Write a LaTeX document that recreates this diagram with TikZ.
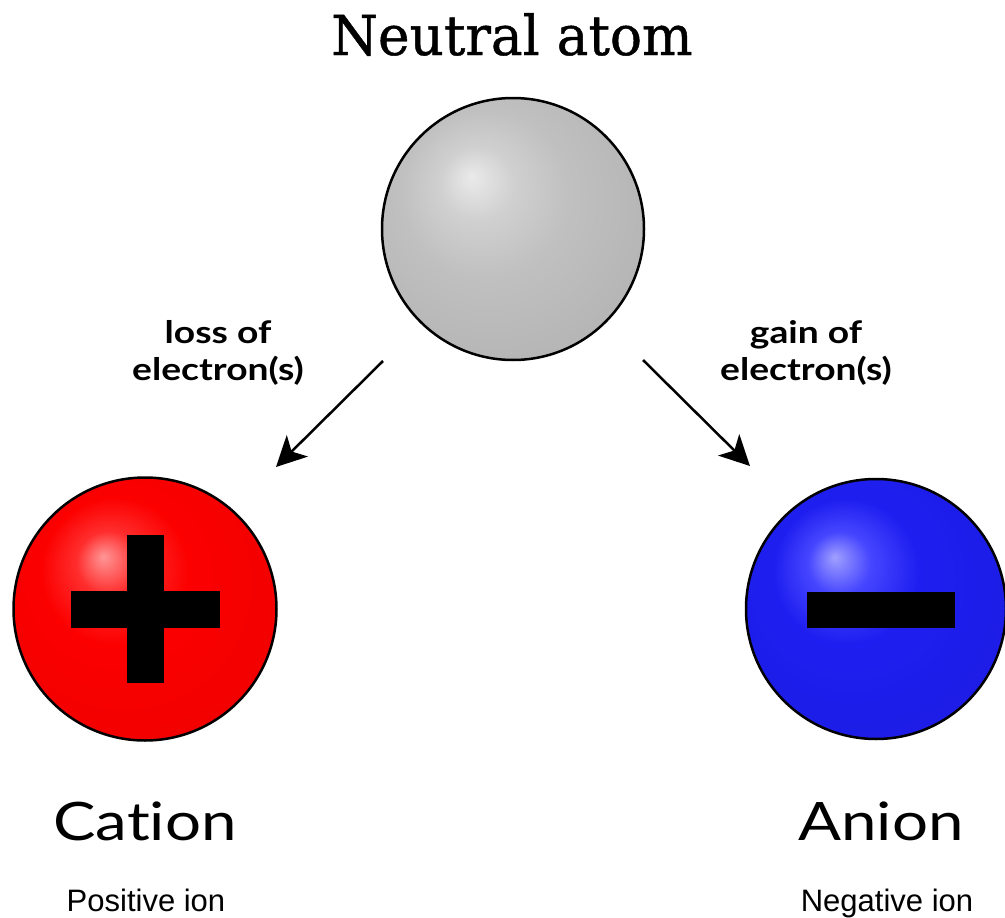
\documentclass[tikz,border=0pt]{standalone}
\usepackage{fontspec}
\usetikzlibrary{arrows.meta}
\newfontfamily\titlefont[FakeStretch=0.97,FakeBold=0.8]{DejaVu Serif}
\newfontfamily\museo[FakeStretch=1.2,Ligatures=NoCommon]{Lato}
\newfontfamily\arialf{Liberation Sans}
\definecolor{gHi}{RGB}{234,234,234}
\definecolor{gMid}{RGB}{208,208,208}
\definecolor{gBase}{RGB}{192,192,192}
\definecolor{gDark}{RGB}{140,140,140}
\definecolor{gEdge}{RGB}{100,100,100}
\definecolor{rHi}{RGB}{255,150,150}
\definecolor{rMid}{RGB}{255,45,45}
\definecolor{rBase}{RGB}{252,0,0}
\definecolor{rDark}{RGB}{180,0,0}
\definecolor{rEdge}{RGB}{110,0,0}
\definecolor{bHi}{RGB}{160,160,255}
\definecolor{bMid}{RGB}{70,70,255}
\definecolor{bBase}{RGB}{30,30,240}
\definecolor{bDark}{RGB}{15,15,170}
\definecolor{bEdge}{RGB}{0,0,90}
\pgfdeclareradialshading{graysphere}{\pgfpoint{-8bp}{10bp}}{color(0bp)=(gHi); color(7bp)=(gMid); color(16bp)=(gBase); color(31bp)=(gBase!94!black); color(40bp)=(gDark); color(50bp)=(gEdge)}
\pgfdeclareradialshading{redsphere}{\pgfpoint{-8bp}{10bp}}{color(0bp)=(rHi); color(6bp)=(rMid); color(14bp)=(rBase); color(30bp)=(rBase!96!black); color(40bp)=(rDark); color(50bp)=(rEdge)}
\pgfdeclareradialshading{bluesphere}{\pgfpoint{-8bp}{10bp}}{color(0bp)=(bHi); color(6bp)=(bMid); color(14bp)=(bBase); color(30bp)=(bBase!96!black); color(40bp)=(bDark); color(50bp)=(bEdge)}
\tikzset{
  sphere/.style={circle, draw=black, line width=2.5pt, inner sep=0pt},
  arr/.style={line width=2.5pt, -{Stealth[length=30pt,width=30pt,inset=8pt]}},
  bigtitle/.style={font=\titlefont\fontsize{55}{60}\selectfont, anchor=base},
  ionname/.style={font=\museo\fontsize{53}{58}\selectfont, anchor=base},
  proc/.style={font=\museo\bfseries\fontsize{31}{37}\selectfont, align=center, anchor=base},
  sub/.style={font=\arialf\fontsize{31}{36}\selectfont, anchor=base},
}
\begin{document}
\begin{tikzpicture}[x=1pt,y=-1pt]
\useasboundingbox[fill=white] (0,0) rectangle (1005,918);
\node[sphere, minimum size=262pt, shading=graysphere] (atom) at (513,229) {};
\node[sphere, minimum size=263pt, shading=redsphere] (cation) at (145,609) {};
\node[sphere, minimum size=260pt, shading=bluesphere] (anion) at (876,609) {};
% plus sign
\fill[black] ([shift={(-18.5,-74)}]cation.center) rectangle ([shift={(18.5,74)}]cation.center);
\fill[black] ([shift={(-74.5,-18)}]cation.center) rectangle ([shift={(74.5,19)}]cation.center);
% minus sign
\fill[black] ([shift={(-69,-17)}]anion.center) rectangle ([shift={(79,19)}]anion.center);
\node[bigtitle] (title) at (512,55) {Neutral atom};
\node[proc] (loss) at (218,380) {loss of\\electron(s)};
\node[proc] (gain) at (806,380) {gain of\\electron(s)};
\node[ionname] (cname) at (145,840) {Cation};
\node[ionname] (aname) at (881,840) {Anion};
\node[sub] (pos) at (146,911) {Positive ion};
\node[sub] (neg) at (887,911) {Negative ion};
\coordinate (ls) at ([shift={(-130,132)}]atom.center);
\coordinate (le) at ([shift={(131,-142)}]cation.center);
\coordinate (rs) at ([shift={(130,131)}]atom.center);
\coordinate (re) at ([shift={(-126,-143)}]anion.center);
\draw[arr] (ls) -- (le);
\draw[arr] (rs) -- (re);
\end{tikzpicture}
\end{document}
